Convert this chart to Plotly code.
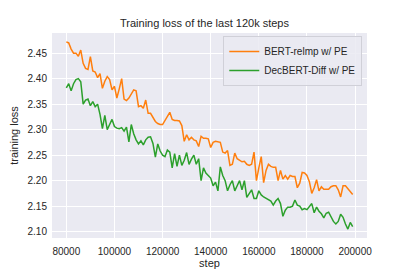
import plotly.graph_objects as go

steps = list(range(80000, 200000, 1000))

bert_relmp = [
    2.472, 2.470, 2.458, 2.450, 2.450, 2.444, 2.456, 2.430, 2.420, 2.418,
    2.443, 2.415, 2.413, 2.402, 2.410, 2.381, 2.395, 2.404, 2.398, 2.378,
    2.385, 2.362, 2.380, 2.400, 2.360, 2.357, 2.362, 2.370, 2.378, 2.376,
    2.345, 2.347, 2.342, 2.358, 2.332, 2.332, 2.325, 2.316, 2.312, 2.310,
    2.310, 2.318, 2.326, 2.334, 2.320, 2.318, 2.318, 2.317, 2.308, 2.277,
    2.290, 2.280, 2.285, 2.280, 2.278, 2.267, 2.287, 2.283, 2.283, 2.282,
    2.265, 2.275, 2.277, 2.276, 2.275, 2.256, 2.254, 2.259, 2.230, 2.232,
    2.254, 2.243, 2.240, 2.237, 2.238, 2.232, 2.230, 2.232, 2.256, 2.200,
    2.225, 2.247, 2.196, 2.220, 2.232, 2.228, 2.226, 2.226, 2.200, 2.220,
    2.203, 2.210, 2.203, 2.210, 2.208, 2.208, 2.186, 2.195, 2.216, 2.215,
    2.210, 2.198, 2.175, 2.186, 2.202, 2.180, 2.188, 2.183, 2.183, 2.183,
    2.188, 2.190, 2.190, 2.182, 2.168, 2.190, 2.190, 2.185, 2.180, 2.173,
]

decbert_diff = [
    2.382, 2.390, 2.376, 2.390, 2.398, 2.400, 2.394, 2.350, 2.358, 2.360,
    2.347, 2.355, 2.345, 2.350, 2.330, 2.302, 2.328, 2.300, 2.310, 2.320,
    2.306, 2.303, 2.302, 2.304, 2.297, 2.305, 2.276, 2.310, 2.292, 2.280,
    2.272, 2.278, 2.270, 2.280, 2.285, 2.286, 2.273, 2.246, 2.272, 2.258,
    2.250, 2.247, 2.260, 2.256, 2.225, 2.253, 2.228, 2.250, 2.230, 2.240,
    2.255, 2.232, 2.242, 2.250, 2.232, 2.243, 2.200, 2.225, 2.215, 2.210,
    2.205, 2.190, 2.197, 2.180, 2.227, 2.210, 2.200, 2.180, 2.192, 2.200,
    2.180, 2.190, 2.200, 2.182, 2.200, 2.167, 2.175, 2.182, 2.165, 2.165,
    2.180, 2.172, 2.168, 2.165, 2.162, 2.160, 2.152, 2.160, 2.165, 2.155,
    2.130, 2.142, 2.148, 2.148, 2.150, 2.162, 2.152, 2.150, 2.143, 2.145,
    2.143, 2.148, 2.155, 2.137, 2.148, 2.140, 2.135, 2.127, 2.136, 2.138,
    2.128, 2.120, 2.115, 2.120, 2.134, 2.128, 2.115, 2.105, 2.118, 2.110,
]

x_ticks = list(range(80000, 200001, 20000))
y_ticks = [2.10, 2.15, 2.20, 2.25, 2.30, 2.35, 2.40, 2.45]

font_family = "Liberation Sans, Arial, sans-serif"

fig = go.Figure()
fig.add_trace(go.Scatter(x=steps, y=bert_relmp, mode="lines", name="BERT-relmp w/ PE",
                         line=dict(color="#ff7f0e", width=1.5)))
fig.add_trace(go.Scatter(x=steps, y=decbert_diff, mode="lines", name="DecBERT-Diff w/ PE",
                         line=dict(color="#2ca02c", width=1.5)))

fig.update_layout(
    width=409, height=273,
    margin=dict(l=52, r=42, t=33, b=35),
    paper_bgcolor="white",
    plot_bgcolor="#EAEAF2",
    font=dict(family=font_family, size=10, color="#262626"),
    title=dict(text="Training loss of the last 120k steps", x=0.5, xanchor="center",
               y=1 - 23 / 273, yanchor="middle", font=dict(size=11, color="#262626")),
    legend=dict(x=0.985, y=0.985, xanchor="right", yanchor="top",
                bgcolor="rgba(234,234,242,0.85)", bordercolor="#d0d0d8", borderwidth=1,
                font=dict(size=10, color="#262626"), tracegroupgap=0),
    showlegend=True,
)
fig.update_xaxes(range=[74050, 204950], tickvals=x_ticks, tickformat="d",
                 showgrid=True, gridcolor="white", gridwidth=1, zeroline=False,
                 ticks="outside", ticklen=4, tickcolor="rgba(0,0,0,0)",
                 showline=False, automargin=False,
                 title=dict(text="step", font=dict(size=11), standoff=3))
fig.update_yaxes(range=[2.0875, 2.4895], tickvals=y_ticks, tickformat=".2f",
                 showgrid=True, gridcolor="white", gridwidth=1, zeroline=False,
                 ticks="outside", ticklen=2, tickcolor="rgba(0,0,0,0)",
                 showline=False, automargin=False,
                 title=dict(text="training loss", font=dict(size=11), standoff=6))

fig.write_html("out.html", config={"displayModeBar": False},
               post_script="document.body.style.margin='0';")
